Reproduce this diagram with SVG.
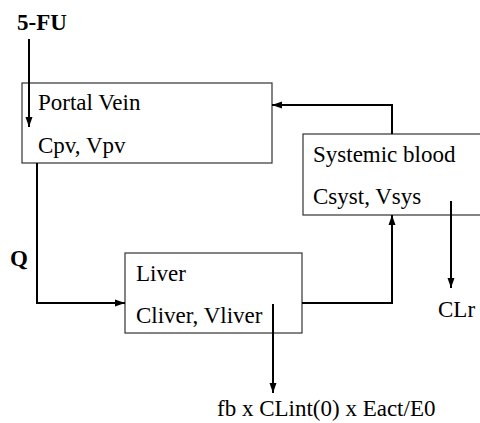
<svg xmlns="http://www.w3.org/2000/svg" width="480" height="423" viewBox="0 0 480 423">
<style>
.box{fill:#fff;stroke:#333;stroke-width:1.2}
.t{font-family:"Liberation Serif","Times New Roman",serif;font-size:23px;fill:#000}
.b{font-weight:bold}
.c{fill:none;stroke:#000;stroke-width:2}
</style>
<defs>
<marker id="ah" markerUnits="userSpaceOnUse" markerWidth="10" markerHeight="10" viewBox="0 0 10 10" refX="10" refY="5" orient="auto">
<path d="M0,1.5 L10,5 L0,8.5 Z" fill="#000"/>
</marker>
</defs>
<rect width="480" height="423" fill="#fff"/>
<g id="portal-vein">
<rect class="box" x="22" y="83" width="250" height="80"/>
<text class="t" x="38" y="110">Portal Vein</text>
<text class="t" x="38" y="153">Cpv, Vpv</text>
</g>
<g id="systemic-blood">
<rect class="box" x="303" y="134" width="180" height="81"/>
<text class="t" x="313" y="162">Systemic blood</text>
<text class="t" x="313" y="204">Csyst, Vsys</text>
</g>
<g id="liver">
<rect class="box" x="125" y="253" width="177" height="80"/>
<text class="t" x="136" y="281">Liver</text>
<text class="t" x="136" y="323">Cliver, Vliver</text>
</g>
<g id="labels">
<text class="t b" x="17" y="30">5-FU</text>
<text class="t b" x="10" y="266">Q</text>
<text class="t" x="438" y="317">CLr</text>
<text class="t" x="217" y="416">fb x CLint(0) x Eact/E0</text>
</g>
<g id="connectors">
<path class="c" d="M29,39 V127" marker-end="url(#ah)"/>
<path class="c" d="M37,163 V303 H125" marker-end="url(#ah)"/>
<path class="c" d="M302,303 H392 V215" marker-end="url(#ah)"/>
<path class="c" d="M392,134 V105 H272" marker-end="url(#ah)"/>
<path class="c" d="M451,201 V288" marker-end="url(#ah)"/>
<path class="c" d="M273,304 V393" marker-end="url(#ah)"/>
</g>
</svg>
